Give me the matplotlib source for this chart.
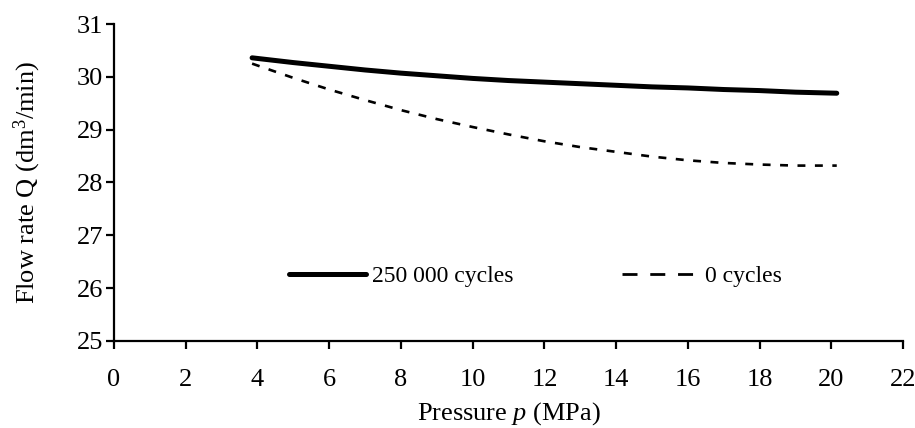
import matplotlib.pyplot as plt
from matplotlib.lines import Line2D

# pressure p (MPa) and flow rate Q (dm3/min)
p_250k = [3.85, 5, 6, 7, 8, 9, 10, 11, 12, 13, 14, 15, 16, 17, 18, 19, 20.15]
q_250k = [30.36, 30.27, 30.20, 30.13, 30.07, 30.02, 29.97, 29.93, 29.90,
          29.87, 29.84, 29.81, 29.79, 29.76, 29.74, 29.71, 29.69]

p_0 = [3.85, 5, 6, 7, 8, 9, 10, 11, 12, 13, 14, 15, 16, 17, 18, 19, 20.15]
q_0 = [30.25, 29.98, 29.76, 29.56, 29.37, 29.20, 29.05, 28.91, 28.78,
       28.67, 28.58, 28.49, 28.42, 28.37, 28.34, 28.32, 28.32]

labels = ["250 000 cycles", "0 cycles"]
x_ticks = list(range(0, 23, 2))
y_ticks = list(range(25, 32))

plt.rcParams["font.family"] = ["Liberation Serif", "DejaVu Serif"]
plt.rcParams["mathtext.fontset"] = "custom"
plt.rcParams["mathtext.rm"] = "Liberation Serif"
plt.rcParams["mathtext.it"] = "Liberation Serif:italic"


def main():
    fig = plt.figure(figsize=(9.15, 4.28), dpi=100)
    ax = fig.add_axes([0.1246, 0.2033, 0.8624, 0.7406])

    ax.plot(p_250k, q_250k, color="black", lw=3.6, solid_capstyle="round")
    ax.plot(p_0, q_0, color="black", lw=1.9, dashes=(3.0, 3.6))

    ax.set_xlim(0, 22)
    ax.set_ylim(25, 31)
    ax.set_xticks(x_ticks)
    ax.set_yticks(y_ticks)

    for side in ("top", "right"):
        ax.spines[side].set_visible(False)
    for side in ("left", "bottom"):
        ax.spines[side].set_linewidth(1.6)
    ax.tick_params(direction="out", length=6, width=1.6, labelsize=19)
    ax.tick_params(axis="x", pad=14)
    ax.tick_params(axis="y", pad=2)

    ax.set_xlabel(r"Pressure $\it{p}$ (MPa)", fontsize=19, labelpad=7)
    ax.set_ylabel(r"Flow rate Q (dm$^3$/min)", fontsize=19, labelpad=24)

    # legend handles drawn like the reference (long dashes in the key)
    handles = [
        Line2D([], [], color="black", lw=3.6, solid_capstyle="round"),
        Line2D([], [], color="black", lw=2.0, dashes=(5.4, 4.6)),
    ]
    ax.legend(handles, labels, loc="center", bbox_to_anchor=(0.534, 0.205),
              ncol=2, frameon=False, fontsize=17, handlelength=3.26,
              handletextpad=0.25, columnspacing=4.6)

    fig.savefig("out.png", dpi=100)


if __name__ == "__main__":
    main()
